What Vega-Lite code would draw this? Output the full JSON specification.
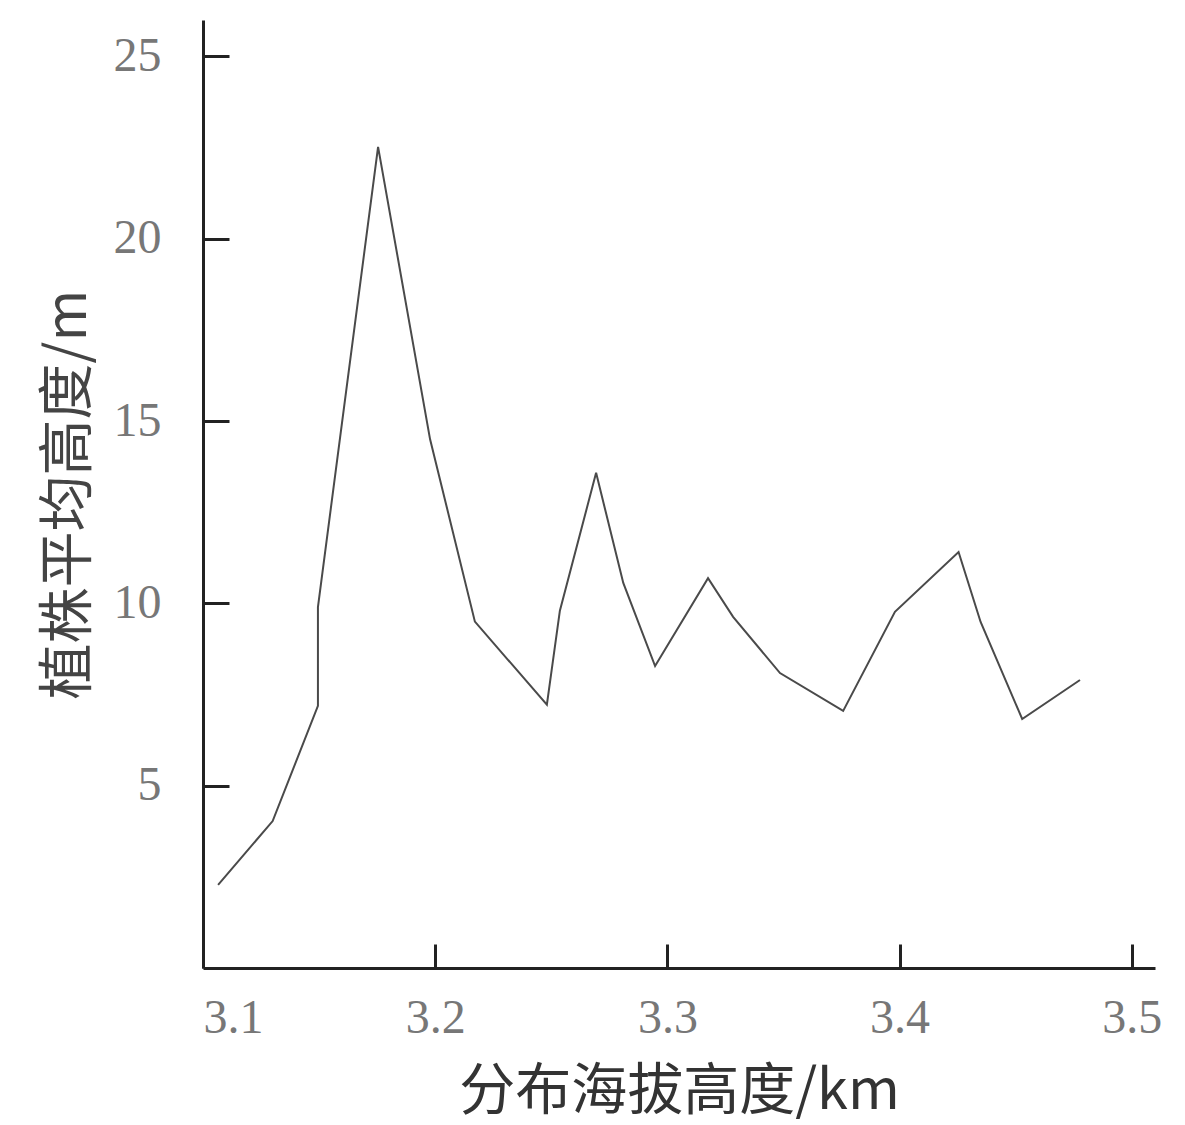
{
  "$schema": "https://vega.github.io/schema/vega-lite/v6.json",
  "width": 952,
  "height": 948,
  "autosize": {"type": "none"},
  "padding": {"left": 203, "top": 20, "right": 30, "bottom": 157},
  "background": "white",
  "config": {"view": {"stroke": null}},
  "data": {"values": [
    {"alt": 3.1065, "h": 2.28},
    {"alt": 3.130, "h": 4.03},
    {"alt": 3.1495, "h": 7.19},
    {"alt": 3.1495, "h": 9.9},
    {"alt": 3.1754, "h": 22.52},
    {"alt": 3.1978, "h": 14.5},
    {"alt": 3.2171, "h": 9.5},
    {"alt": 3.2481, "h": 7.22},
    {"alt": 3.2537, "h": 9.8},
    {"alt": 3.2693, "h": 13.58},
    {"alt": 3.2810, "h": 10.56},
    {"alt": 3.2947, "h": 8.28},
    {"alt": 3.3175, "h": 10.69},
    {"alt": 3.3283, "h": 9.63},
    {"alt": 3.3485, "h": 8.09},
    {"alt": 3.3757, "h": 7.05},
    {"alt": 3.398, "h": 9.77},
    {"alt": 3.4254, "h": 11.41},
    {"alt": 3.4349, "h": 9.49},
    {"alt": 3.4528, "h": 6.83},
    {"alt": 3.4777, "h": 7.9}
  ]},
  "mark": {"type": "line", "color": "#4a4a4a", "strokeWidth": 2, "interpolate": "linear"},
  "encoding": {
    "x": {
      "field": "alt", "type": "quantitative",
      "scale": {"domain": [3.1, 3.51], "nice": false, "zero": false},
      "axis": {
        "title": "分布海拔高度/km",
        "values": [3.1, 3.2, 3.3, 3.4, 3.5],
        "format": ".1f",
        "grid": false,
        "domainColor": "#222222", "domainWidth": 3,
        "tickColor": "#222222", "tickWidth": 3, "tickSize": -24,
        "labelFont": "Liberation Serif", "labelFontSize": 48, "labelColor": "#777777",
        "labelPadding": 50,
        "titleFont": "Noto Sans CJK SC", "titleFontSize": 56, "titleFontWeight": "normal",
        "titleColor": "#333333", "titlePadding": 22
      }
    },
    "y": {
      "field": "h", "type": "quantitative",
      "scale": {"domain": [0, 26], "nice": false},
      "axis": {
        "title": "植株平均高度/m",
        "values": [5, 10, 15, 20, 25],
        "grid": false,
        "domainColor": "#222222", "domainWidth": 3,
        "tickColor": "#222222", "tickWidth": 3, "tickSize": -26,
        "labelFont": "Liberation Serif", "labelFontSize": 48, "labelColor": "#777777",
        "labelPadding": 68,
        "titleFont": "Noto Sans CJK SC", "titleFontSize": 56, "titleFontWeight": "normal",
        "titleColor": "#444444", "titlePadding": 16
      }
    }
  }
}
